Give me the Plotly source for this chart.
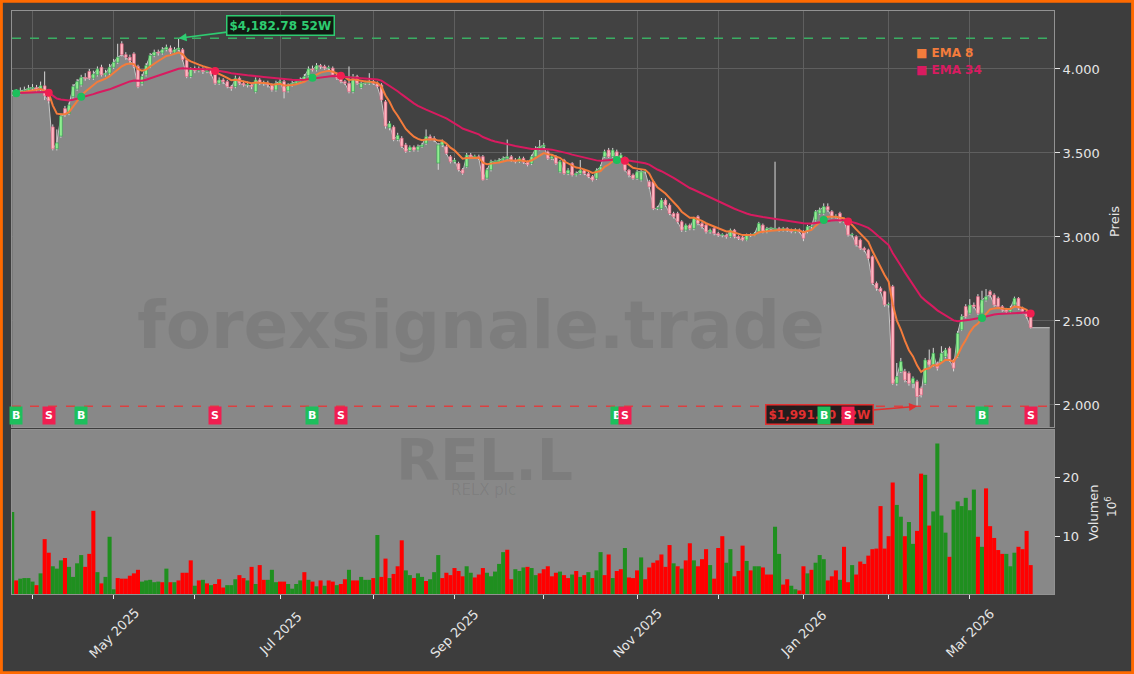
import pandas as pd
import plotly.graph_objects as go

# ---------------- data ----------------
start_date = "2025-03-25"
end_date = "2026-03-23"
uk_holidays = ["2025-04-18", "2025-04-21", "2025-05-05", "2025-05-26",
               "2025-08-25", "2025-12-25", "2025-12-26", "2026-01-01"]

close = [
    3855, 3860, 3870, 3875, 3885, 3890, 3880, 3900, 3840, 3810,
    3525, 3560, 3720, 3730, 3785, 3895, 3925, 3950, 3945, 3945,
    3970, 4000, 3965, 3975, 4010, 4040, 4070, 4085, 4070, 4050,
    4015, 3895, 3955, 4020, 4080, 4100, 4095, 4115, 4130, 4100,
    4115, 4125, 4055, 3955, 4000, 3990, 4000, 3985, 3990, 3970,
    3915, 3935, 3925, 3895, 3885, 3945, 3915, 3905, 3905, 3895,
    3935, 3915, 3915, 3905, 3875, 3915, 3925, 3865, 3905, 3915,
    3925, 3935, 3955, 4000, 3995, 4020, 4015, 4005, 4005, 3965,
    3945, 3925, 3915, 3865, 3955, 3915, 3915, 3915, 3925, 3915,
    3895, 3815, 3660, 3675, 3580, 3605, 3540, 3510, 3535, 3518,
    3538, 3548, 3597, 3587, 3578, 3548, 3568, 3498, 3448, 3458,
    3400, 3380, 3488, 3478, 3478, 3468, 3340, 3400, 3448, 3448,
    3458, 3468, 3478, 3458, 3448, 3468, 3445, 3430, 3478, 3527,
    3537, 3547, 3468, 3478, 3438, 3448, 3378, 3398, 3369, 3378,
    3398, 3378, 3359, 3339, 3398, 3418, 3508, 3478, 3517, 3468,
    3488, 3398, 3369, 3349, 3388, 3388, 3388, 3299, 3170, 3170,
    3220, 3190, 3140, 3120, 3091, 3041, 3071, 3051, 3111, 3081,
    3061, 3031, 3041, 3021, 3011, 3011, 3002, 3041, 3002, 2992,
    2982, 3011, 3011, 3021, 3081, 3031, 3051, 3051, 3051, 3041,
    3051, 3041, 3032, 3042, 3032, 2992, 3062, 3062, 3151, 3161,
    3181, 3161, 3121, 3121, 3092, 3101, 3012, 3012, 2953, 2933,
    2923, 2873, 2725, 2695, 2675, 2596, 2596, 2129, 2169, 2258,
    2149, 2129, 2159, 2050, 2060, 2268, 2238, 2308, 2219, 2308,
    2328, 2268, 2219, 2427, 2526, 2526, 2595, 2586, 2546, 2625,
    2645, 2655, 2596, 2586, 2566, 2556, 2576, 2635, 2576, 2556,
    2526, 2460,
]
open_ = [
    3850, 3855, 3860, 3870, 3875, 3885, 3890, 3880, 3900, 3840,
    3655, 3525, 3600, 3765, 3735, 3835, 3880, 3905, 3950, 3985,
    3945, 3965, 4010, 3965, 3975, 4010, 4040, 4150, 4085, 4070,
    4090, 4015, 3915, 3965, 4015, 4080, 4100, 4095, 4115, 4125,
    4100, 4115, 4115, 4055, 3955, 4000, 3990, 4000, 3985, 3990,
    3995, 3915, 3935, 3925, 3895, 3895, 3945, 3915, 3905, 3905,
    3865, 3935, 3915, 3915, 3905, 3875, 3915, 3925, 3870, 3905,
    3915, 3925, 3935, 3960, 4000, 3995, 4020, 4015, 4005, 4005,
    3965, 3945, 3925, 3915, 3865, 3955, 3890, 3915, 3915, 3925,
    3915, 3905, 3805, 3650, 3655, 3580, 3588, 3548, 3515, 3535,
    3518, 3538, 3558, 3597, 3587, 3440, 3548, 3538, 3478, 3448,
    3438, 3400, 3418, 3488, 3478, 3478, 3478, 3350, 3400, 3448,
    3448, 3458, 3468, 3478, 3458, 3448, 3468, 3445, 3438, 3478,
    3527, 3537, 3507, 3468, 3478, 3388, 3458, 3378, 3438, 3369,
    3378, 3398, 3378, 3359, 3349, 3398, 3478, 3517, 3478, 3507,
    3468, 3468, 3398, 3369, 3349, 3339, 3388, 3329, 3329, 3170,
    3170, 3220, 3190, 3140, 3140, 3091, 3041, 3071, 3051, 3121,
    3081, 3071, 3031, 3051, 3021, 3011, 3011, 3002, 3041, 3002,
    2998, 2982, 3011, 3011, 3031, 3071, 3031, 3051, 3045, 3051,
    3041, 3051, 3041, 3032, 3042, 3032, 3032, 3062, 3101, 3141,
    3141, 3181, 3151, 3121, 3141, 3092, 3082, 3012, 3002, 2982,
    2933, 2923, 2883, 2725, 2695, 2675, 2596, 2705, 2129, 2200,
    2199, 2189, 2129, 2139, 2100, 2129, 2268, 2238, 2248, 2258,
    2288, 2338, 2268, 2288, 2447, 2586, 2546, 2595, 2645, 2546,
    2625, 2675, 2655, 2635, 2586, 2566, 2556, 2596, 2635, 2576,
    2556, 2526,
]
high = [
    3875, 3880, 3890, 3895, 3905, 3910, 3905, 3925, 3985, 3850,
    3670, 3640, 3735, 3780, 3800, 3910, 3940, 3965, 3975, 4000,
    3990, 4015, 4025, 3995, 4030, 4060, 4150, 4165, 4100, 4085,
    4100, 4025, 3970, 4035, 4095, 4115, 4115, 4130, 4145, 4140,
    4130, 4182.78, 4125, 4060, 4010, 4015, 4015, 4010, 4005, 4000,
    4005, 3950, 3945, 3935, 3905, 3960, 3955, 3930, 3925, 3915,
    3950, 3945, 3930, 3930, 3915, 3930, 3940, 3935, 3915, 3930,
    3940, 3950, 3970, 4015, 4020, 4035, 4030, 4025, 4020, 4015,
    3975, 3955, 3935, 4015, 3970, 3965, 3925, 3930, 3975, 3935,
    3925, 3915, 3815, 3690, 3665, 3620, 3600, 3560, 3545, 3545,
    3550, 3560, 3640, 3610, 3600, 3560, 3580, 3548, 3488, 3470,
    3448, 3410, 3500, 3500, 3490, 3490, 3488, 3410, 3460, 3460,
    3470, 3480, 3580, 3488, 3470, 3480, 3478, 3455, 3490, 3540,
    3577, 3560, 3515, 3490, 3488, 3458, 3465, 3410, 3445, 3390,
    3458, 3405, 3388, 3368, 3408, 3430, 3520, 3530, 3530, 3520,
    3500, 3478, 3405, 3378, 3398, 3398, 3400, 3340, 3340, 3185,
    3232, 3230, 3200, 3150, 3150, 3100, 3080, 3080, 3120, 3130,
    3090, 3080, 3050, 3060, 3030, 3022, 3020, 3050, 3048, 3010,
    3005, 3020, 3022, 3030, 3090, 3080, 3060, 3060, 3448, 3060,
    3060, 3058, 3050, 3052, 3050, 3040, 3072, 3075, 3160, 3175,
    3200, 3200, 3160, 3135, 3150, 3112, 3090, 3025, 3010, 2990,
    2942, 2930, 2890, 2735, 2705, 2680, 2610, 2715, 2250, 2280,
    2215, 2200, 2170, 2150, 2110, 2280, 2330, 2340, 2258, 2350,
    2340, 2348, 2275, 2440, 2540, 2600, 2630, 2610, 2660, 2680,
    2690, 2685, 2665, 2645, 2595, 2578, 2590, 2645, 2642, 2585,
    2565, 2535,
]
low = [
    3840, 3845, 3850, 3860, 3865, 3870, 3865, 3870, 3815, 3795,
    3515, 3515, 3590, 3715, 3725, 3825, 3870, 3895, 3930, 3935,
    3935, 3955, 3955, 3955, 3965, 4000, 4030, 4075, 4055, 4035,
    4005, 3885, 3900, 3955, 4005, 4070, 4080, 4085, 4105, 4090,
    4090, 4105, 4045, 3945, 3945, 3975, 3980, 3970, 3975, 3960,
    3905, 3905, 3910, 3885, 3870, 3885, 3905, 3895, 3890, 3880,
    3855, 3905, 3900, 3890, 3865, 3865, 3905, 3825, 3860, 3895,
    3905, 3915, 3925, 3950, 3985, 3985, 4000, 3995, 3990, 3955,
    3935, 3915, 3905, 3855, 3855, 3905, 3880, 3905, 3905, 3905,
    3885, 3805, 3645, 3635, 3570, 3570, 3530, 3500, 3505, 3508,
    3508, 3530, 3548, 3575, 3565, 3400, 3535, 3488, 3438, 3438,
    3390, 3370, 3410, 3468, 3465, 3458, 3335, 3340, 3390, 3435,
    3440, 3448, 3460, 3448, 3438, 3440, 3435, 3420, 3428, 3470,
    3515, 3525, 3458, 3458, 3428, 3380, 3370, 3368, 3360, 3360,
    3370, 3368, 3350, 3330, 3340, 3390, 3470, 3470, 3470, 3460,
    3460, 3390, 3355, 3340, 3340, 3330, 3378, 3285, 3160, 3160,
    3160, 3180, 3130, 3110, 3080, 3030, 3030, 3040, 3040, 3070,
    3050, 3020, 3020, 3010, 3000, 2998, 2990, 2995, 2992, 2982,
    2975, 2975, 3000, 3005, 3022, 3022, 3022, 3040, 3040, 3032,
    3032, 3030, 3022, 3022, 3022, 2975, 3022, 3050, 3092, 3132,
    3132, 3150, 3110, 3110, 3082, 3082, 3002, 2998, 2943, 2923,
    2910, 2862, 2715, 2680, 2665, 2585, 2580, 2120, 2115, 2190,
    2135, 2115, 2100, 1991.8, 2045, 2120, 2228, 2228, 2205, 2250,
    2278, 2258, 2200, 2280, 2440, 2515, 2538, 2575, 2536, 2538,
    2615, 2640, 2585, 2575, 2555, 2545, 2545, 2586, 2565, 2545,
    2515, 2455,
]
# volume in millions
volume = [
    14.2, 2.6, 2.9, 3.0, 3.0, 2.4, 1.8, 3.8, 9.6, 7.3,
    5.0, 4.6, 6.0, 6.4, 4.9, 3.2, 5.5, 6.9, 4.9, 7.1,
    14.4, 4.0, 2.1, 3.2, 10.0, 1.1, 3.0, 2.9, 2.9, 3.4,
    3.8, 4.4, 2.4, 2.6, 2.7, 2.3, 2.4, 2.3, 4.6, 2.3,
    2.3, 2.6, 3.9, 3.9, 6.0, 1.7, 2.6, 2.7, 2.1, 1.8,
    2.0, 2.8, 1.4, 1.8, 1.8, 2.8, 3.5, 3.0, 2.6, 4.9,
    2.0, 5.2, 2.7, 2.7, 4.4, 2.3, 2.4, 2.4, 2.0, 1.2,
    2.0, 2.6, 4.0, 2.7, 2.4, 1.6, 2.6, 1.7, 2.6, 2.4,
    1.8, 2.0, 2.8, 4.4, 2.6, 2.6, 3.2, 2.7, 2.7, 3.0,
    10.3, 3.2, 6.3, 3.0, 3.7, 5.0, 9.4, 4.3, 3.5, 3.0,
    3.8, 3.2, 2.5, 2.8, 4.0, 6.9, 3.0, 3.9, 3.5, 4.7,
    4.2, 3.3, 5.0, 3.9, 3.1, 3.6, 4.7, 3.9, 3.3, 4.1,
    5.4, 7.4, 7.8, 2.8, 4.5, 4.2, 4.8, 4.9, 4.7, 3.5,
    3.8, 4.5, 5.0, 3.3, 3.9, 4.1, 3.5, 3.0, 3.6, 4.2,
    3.2, 3.5, 4.0, 3.0, 4.3, 7.4, 3.5, 7.0, 3.0, 4.2,
    4.5, 8.1, 3.1, 3.0, 4.3, 6.5, 2.8, 4.8, 5.6, 6.0,
    7.0, 4.9, 8.6, 5.5, 5.0, 4.6, 6.0, 8.9, 6.0, 5.0,
    6.2, 7.9, 5.2, 2.9, 8.1, 10.1, 5.6, 7.9, 3.3, 4.2,
    8.5, 5.9, 4.3, 5.0, 5.0, 4.8, 3.6, 3.6, 11.7, 7.1,
    1.9, 2.8, 1.7, 1.1, 0.9, 5.0, 3.8, 4.4, 5.6, 6.9,
    6.2, 2.6, 3.3, 4.3, 2.7, 8.3, 2.3, 5.2, 3.6, 5.8,
    5.4, 6.8, 7.9, 8.0, 15.2, 8.0, 10.1, 19.2, 15.4, 13.4,
    10.1, 12.5, 8.8, 11.0, 20.7, 20.5, 11.9, 14.3, 25.8, 13.6,
    10.7, 6.6, 14.6, 16.0, 15.2, 16.6, 14.5, 18.0, 10.0, 8.3,
    18.2, 11.8, 9.8, 7.75, 7.1, 7.1, 5.0, 7.3, 8.3, 7.9,
    11.0, 5.2,
]
# G = up-volume bar, R = down-volume bar
vol_dir = (
    "GRGGGGRGRR" "GGGRGGGGRR" "RGRGGGRRRR" "RRGGGGGRGR" "GRRRRGRGRG"
    "RRRGGGRRGR" "GRRGGGRRGG" "GGRGRGRGRR" "GRRGRRGGGR" "GRRGRRRGGR"
    "GGRGGGRRRR" "RRGGRRRGGG" "GGRRGGGRGG" "RRRRRGRRGR" "GRGRGGRRGR"
    "RGRRRGRRRR" "RRRGRGRRGR" "RRGRRRGGRR" "RGRGGRRRGG" "RRGGRRGRGG"
    "GRRRGRRGRR" "RRRRRRRRGG" "RGGRRGRGGG" "GRGGGGGGRG" "RRRRRGGGRR"
    "RR"
)

signal_idx = [1, 9, 17, 50, 74, 81, 149, 151, 200, 206, 239, 251]
signal_kind = ["B", "S", "B", "S", "B", "S", "B", "S", "B", "S", "B", "S"]

high_52w_value = 4182.78
low_52w_value = 1991.80

ticker = "REL.L"
company = "RELX plc"
watermark = "forexsignale.trade"
price_ticks = [2000, 2500, 3000, 3500, 4000]
volume_ticks = [10, 20]

# ---------------- derived ----------------
dates = pd.bdate_range(start_date, end_date)
dates = dates[~dates.isin(pd.to_datetime(uk_holidays))]
N = len(close)
assert len(dates) == N == len(open_) == len(high) == len(low) == len(volume) == len(vol_dir), \
    (len(dates), N, len(open_), len(high), len(low), len(volume), len(vol_dir))

idx = list(range(N))
cs = pd.Series(close, dtype=float)
ema8 = cs.ewm(span=8, adjust=False).mean()
ema34 = cs.ewm(span=34, adjust=False).mean()

hi_idx = int(pd.Series(high).idxmax())
lo_idx = int(pd.Series(low).idxmin())

month_pos = [i for i in range(1, N) if dates[i].month != dates[i - 1].month]
label_pos = [i for i in month_pos if dates[i].month % 2 == 1]

# ---------------- style ----------------
W, H = 1134, 674
PAPER = "#3d3d3d"
PLOT_BG = "#424242"
FILL = "#888888"
GRID = "#5f5f5f"
FRAME = "#929292"
TXT = "#e6e6e6"
EMA8_C = "#f47c3c"
EMA34_C = "#d81b60"
UP_FILL, UP_LINE = "#90ee90", "#2e9e4e"
DN_FILL, DN_LINE = "#ffb6c1", "#e0607e"
VOL_UP, VOL_DN = "#1f8f1f", "#ff0000"
BUY_C, SELL_C = "#1dbf5c", "#f01e50"
FONT = "DejaVu Sans"

X_DOM = [12 / W, 1054 / W]
Y_PRICE = [1 - 427 / H, 1 - 11 / H]
Y_VOL = [1 - 594 / H, 1 - 430 / H]
P_RANGE = [1869, 4345]
V_RANGE = [0.3, 28.1]
X_RANGE = [-0.05, N - 1 + 5.75]
FILL_PAD = 4.7


def px_x(p):
    return p / W


def px_y(p):
    return 1 - p / H


def label(x, y, text, size, color, angle=0, xanchor="center", bold=False):
    return dict(x=px_x(x), y=px_y(y), xref="paper", yref="paper",
                xanchor=xanchor, yanchor="middle", textangle=angle,
                text=f"<b>{text}</b>" if bold else text, showarrow=False,
                font=dict(family=FONT, size=size, color=color))


fig = go.Figure()

# close line with area fill (base price axis)
fig.add_trace(go.Scatter(
    x=idx + [N - 1 + FILL_PAD], y=close + [close[-1]], mode="lines",
    line=dict(color="#c6c6c6", width=1), fill="tozeroy", fillcolor=FILL,
    xaxis="x", yaxis="y", hoverinfo="skip"))

# wicks (overlay axis y3)
wx, wy = [], []
for i in idx:
    wx += [i, i, None]
    wy += [low[i], high[i], None]
fig.add_trace(go.Scatter(x=wx, y=wy, mode="lines",
                         line=dict(color="#dadada", width=1),
                         xaxis="x", yaxis="y3", hoverinfo="skip"))

# bodies (overlay axis y4)
up = [c >= o for o, c in zip(open_, close)]
fig.add_trace(go.Bar(
    x=idx,
    y=[max(abs(c - o), 4) for o, c in zip(open_, close)],
    base=[min(o, c) for o, c in zip(open_, close)],
    width=0.7,
    marker=dict(color=[UP_FILL if u else DN_FILL for u in up],
                line=dict(color=[UP_LINE if u else DN_LINE for u in up], width=0.6)),
    xaxis="x", yaxis="y4", hoverinfo="skip"))

fig.add_trace(go.Scatter(x=idx, y=ema8, mode="lines", line=dict(color=EMA8_C, width=2),
                         xaxis="x", yaxis="y4", name="EMA 8"))
fig.add_trace(go.Scatter(x=idx, y=ema34, mode="lines", line=dict(color=EMA34_C, width=2),
                         xaxis="x", yaxis="y4", name="EMA 34"))

mid = (ema8 + ema34) / 2
for kind, col in (("B", BUY_C), ("S", SELL_C)):
    pts = [i for i, k in zip(signal_idx, signal_kind) if k == kind]
    fig.add_trace(go.Scatter(x=pts, y=[mid[i] for i in pts], mode="markers",
                             marker=dict(color=col, size=8),
                             xaxis="x", yaxis="y4", hoverinfo="skip"))

# volume
fig.add_trace(go.Bar(
    x=idx, y=volume, width=1.0,
    marker=dict(color=[VOL_UP if d == "G" else VOL_DN for d in vol_dir], line=dict(width=0)),
    xaxis="x2", yaxis="y2", hoverinfo="skip"))

axis_common = dict(zeroline=False, showline=True, mirror=True, linecolor=FRAME, linewidth=1)

fig.update_layout(
    width=W, height=H, margin=dict(l=0, r=0, t=0, b=0),
    paper_bgcolor=PAPER, plot_bgcolor=PLOT_BG,
    showlegend=False, barmode="overlay", separators=",.",
    font=dict(family=FONT, color=TXT, size=13),
    xaxis=dict(domain=X_DOM, range=X_RANGE, anchor="y", tickvals=month_pos,
               showticklabels=False, ticks="", showgrid=True, gridcolor=GRID,
               gridwidth=1, **axis_common),
    yaxis=dict(domain=Y_PRICE, range=P_RANGE, side="right", anchor="x",
               tickvals=price_ticks, tickformat=",.0f", ticks="outside", ticklen=5,
               tickcolor=TXT, tickfont=dict(size=13, color=TXT),
               showgrid=True, gridcolor=GRID, gridwidth=1, **axis_common),
    yaxis3=dict(overlaying="y", range=P_RANGE, visible=False, anchor="x"),
    yaxis4=dict(overlaying="y", range=P_RANGE, visible=False, anchor="x"),
    xaxis2=dict(domain=X_DOM, range=X_RANGE, anchor="y2", matches="x",
                tickvals=month_pos, showticklabels=False, ticks="outside",
                ticklen=4, tickcolor=TXT, showgrid=False, **axis_common),
    yaxis2=dict(domain=Y_VOL, range=V_RANGE, side="right", anchor="x2",
                tickvals=volume_ticks, tickformat="d", ticks="outside", ticklen=5,
                tickcolor=TXT, tickfont=dict(size=13, color=TXT),
                showgrid=False, **axis_common),
)

shapes = [
    dict(type="rect", xref="x2 domain", yref="y2 domain", x0=0, x1=1, y0=0, y1=1,
         fillcolor=FILL, line=dict(width=0), layer="below"),
    dict(type="line", xref="x domain", yref="y", x0=0, x1=1,
         y0=high_52w_value, y1=high_52w_value,
         line=dict(color="#3aae63", width=1.5, dash="dash")),
    dict(type="line", xref="x domain", yref="y", x0=0, x1=1,
         y0=low_52w_value, y1=low_52w_value,
         line=dict(color="#dc4040", width=1.5, dash="dash")),
    dict(type="rect", xref="paper", yref="paper", x0=0.0012, x1=0.9988,
         y0=0.002, y1=0.998, line=dict(color="#ff6a00", width=3)),
]
fig.update_layout(shapes=shapes)

WM = "rgba(0,0,0,0.075)"
ann = [
    label(481, 326, watermark, 66, WM, bold=True),
    label(484, 460, ticker, 57, WM, bold=True),
    label(483, 490, company, 15, WM),
    label(914, 53, "■ EMA 8", 12, EMA8_C, xanchor="left", bold=True),
    label(914, 70, "■ EMA 34", 12, EMA34_C, xanchor="left", bold=True),
    label(1115, 222, "Preis", 13, TXT, angle=-90),
    label(1093, 513, "Volumen", 13, TXT, angle=-90),
    label(1111, 507, "10<sup>6</sup>", 12, TXT, angle=-90),
]
# x tick labels
for i in label_pos:
    ann.append(dict(x=i, y=px_y(633), xref="x2", yref="paper",
                    text=dates[i].strftime("%b %Y"), textangle=-45, showarrow=False,
                    xanchor="center", yanchor="middle", font=dict(size=13, color=TXT)))
# 52W high / low
ann.append(dict(x=hi_idx, y=high_52w_value, xref="x", yref="y",
                text=f"<b>${high_52w_value:,.2f} 52W</b>", showarrow=True,
                ax=102, ay=-13, arrowhead=2, arrowsize=1, arrowwidth=1.6,
                arrowcolor="#2ecc71", bgcolor="rgba(12,22,14,0.9)",
                bordercolor="#2ecc71", borderwidth=1.5, borderpad=2,
                font=dict(size=12, color="#2ecc71")))
ann.append(dict(x=lo_idx, y=low_52w_value, xref="x", yref="y",
                text=f"<b>${low_52w_value:,.2f} 52W</b>", showarrow=True,
                ax=-98, ay=8, arrowhead=2, arrowsize=1, arrowwidth=1.6,
                arrowcolor="#e23030", bgcolor="rgba(26,18,18,0.9)",
                bordercolor="#e23030", borderwidth=1.5, borderpad=2,
                font=dict(size=12, color="#e23030")))
# B / S labels
for i, k in zip(signal_idx, signal_kind):
    ann.append(dict(x=i, y=px_y(415), xref="x", yref="paper", text=f"<b>{k}</b>",
                    xanchor="center", yanchor="middle",
                    showarrow=False, bgcolor=BUY_C if k == "B" else SELL_C,
                    borderpad=2, font=dict(size=11, color="white")))
fig.update_layout(annotations=ann)

fig.write_html(
    "out.html",
    config={"displayModeBar": False},
    post_script="document.body.style.margin='0';document.body.style.padding='0';"
                "document.body.style.overflow='hidden';",
)
